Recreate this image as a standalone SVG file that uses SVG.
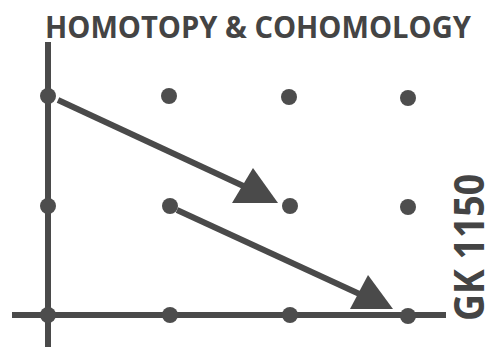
<svg xmlns="http://www.w3.org/2000/svg" width="488" height="347" viewBox="0 0 488 347">
<style>
.ax{stroke:#4a4a4a;stroke-width:6;fill:none}
.ln{stroke:#4a4a4a;stroke-width:6;fill:none}
.dot{fill:#4d4d4d}
.head{fill:#4a4a4a}
.t{font-family:"Open Sans","Liberation Sans",sans-serif;font-weight:bold;fill:#444}
</style>
<rect width="488" height="347" fill="#fff"/>
<text class="t" transform="translate(45,38) scale(0.93,1)" font-size="31" textLength="458" lengthAdjust="spacingAndGlyphs">HOMOTOPY &amp; COHOMOLOGY</text>
<g id="axes">
<line class="ax" x1="48" y1="42" x2="48" y2="347"/>
<line class="ax" x1="12" y1="315" x2="446" y2="315"/>
</g>
<g id="nodes">
<g id="n00"><circle class="dot" cx="48" cy="96" r="8"/></g>
<g id="n10"><circle class="dot" cx="169" cy="96" r="8"/></g>
<g id="n20"><circle class="dot" cx="289" cy="97" r="8"/></g>
<g id="n30"><circle class="dot" cx="408" cy="98" r="8"/></g>
<g id="n01"><circle class="dot" cx="48" cy="206" r="8"/></g>
<g id="n11"><circle class="dot" cx="170" cy="206" r="8"/></g>
<g id="n21"><circle class="dot" cx="290" cy="206" r="8"/></g>
<g id="n31"><circle class="dot" cx="408" cy="207" r="8"/></g>
<g id="n02"><circle class="dot" cx="48" cy="315" r="8"/></g>
<g id="n12"><circle class="dot" cx="170" cy="315" r="8"/></g>
<g id="n22"><circle class="dot" cx="290" cy="315" r="8"/></g>
<g id="n32"><circle class="dot" cx="408" cy="316" r="8"/></g>
</g>
<g id="connectors">
<line class="ln" x1="58" y1="100" x2="252" y2="190"/>
<polygon class="head" points="232,203 278,203 253,168"/>
<line class="ln" x1="177" y1="210" x2="366" y2="297"/>
<polygon class="head" points="350,309 393,309 368,275"/>
</g>
<text class="t" transform="translate(484,321) rotate(-90) scale(0.86,1)" font-size="41" font-weight="600" textLength="171" lengthAdjust="spacingAndGlyphs">GK 1150</text>
</svg>
